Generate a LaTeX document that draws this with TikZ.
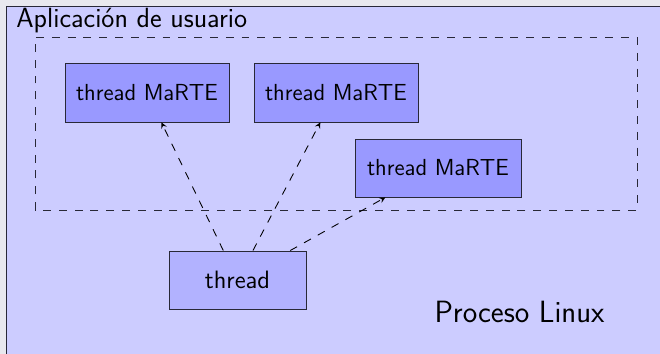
\documentclass[tikz,border=0pt]{standalone}
\usepackage{tikz}
\usetikzlibrary{arrows}
\definecolor{fondo}{RGB}{232,232,238}
\definecolor{borde}{RGB}{40,40,55}
\tikzset{marte/.append style={draw=borde, fill=blue!40, minimum width=3.28cm, minimum height=1.18cm, inner sep=0, line width=0.5pt, font=\sffamily\fontsize{13.2}{15}\selectfont}}
\tikzset{hilo/.append style={draw=borde, fill=blue!30, minimum width=2.74cm, minimum height=1.16cm, inner sep=0, line width=0.5pt, font=\sffamily\fontsize{14.3}{17}\selectfont}}
\tikzset{flecha/.append style={->, >=stealth, line width=0.5pt, dash pattern=on 4.5pt off 4.5pt}}

\begin{document}
\begin{tikzpicture}
            \useasboundingbox (0,0) rectangle (13.2,7.08);
            \fill[fondo] (0,0) rectangle (13.2,7.08);
            % proceso y aplicacion
            \draw[draw=borde, line width=0.5pt, fill=blue!20] (0.12,-0.5) rectangle (13.5,6.96);
            \draw[draw=borde, line width=0.5pt, dash pattern=on 4.5pt off 4.5pt] (0.70,2.88) rectangle (12.74,6.34);
            \node[anchor=base west, inner sep=0, font=\sffamily\fontsize{15.8}{19}\selectfont] (app) at (0.32,6.52) {Aplicación de usuario};
            \node[anchor=base, inner sep=0, font=\sffamily\fontsize{17.5}{20}\selectfont] (lin) at (10.39,0.62) {Proceso Linux};
            % threads
            \node[marte] (m1) at (2.94,5.23) {thread MaRTE};
            \node[marte] (m2) at (6.72,5.23) {thread MaRTE};
            \node[marte, minimum width=3.32cm, minimum height=1.16cm] (m3) at (8.76,3.72) {thread MaRTE};
            \node[hilo] (t) at (4.75,1.48) {thread};
            \path[flecha] (t) edge (m1) edge (m2) edge (m3);
\end{tikzpicture}
\end{document}
